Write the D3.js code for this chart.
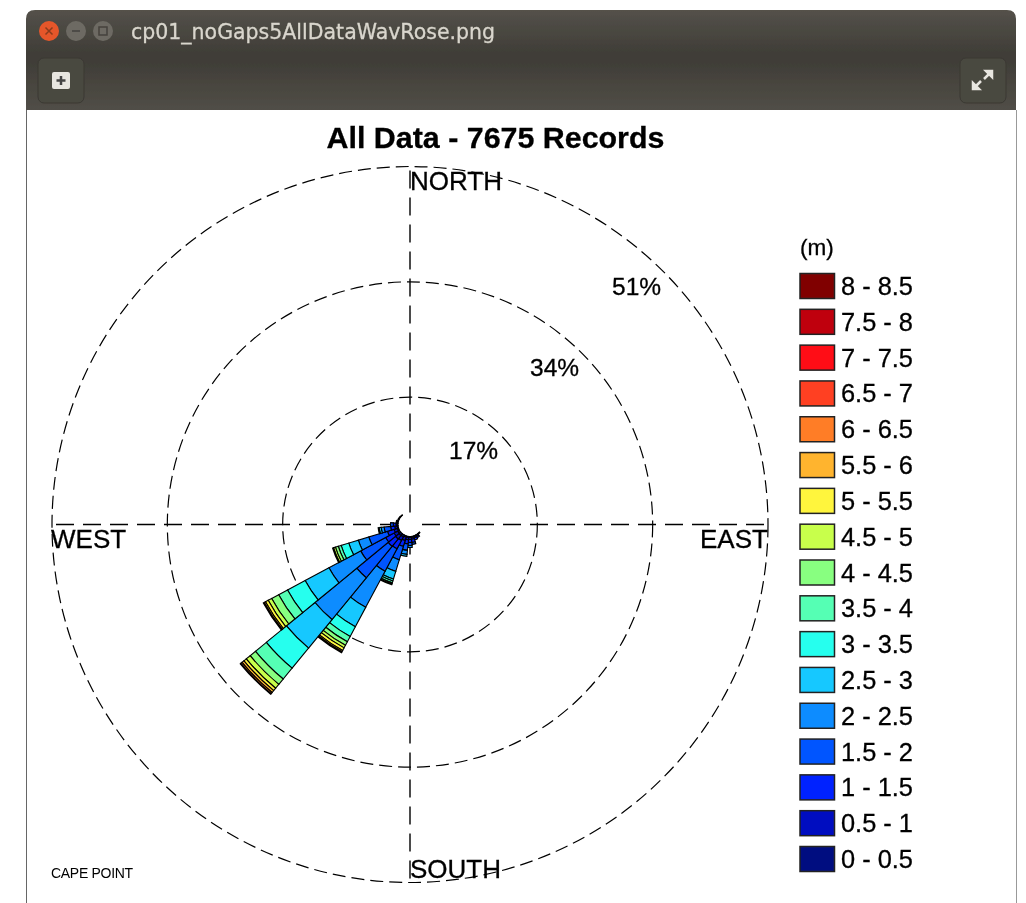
<!DOCTYPE html>
<html>
<head>
<meta charset="utf-8">
<script src="https://cdn.jsdelivr.net/npm/d3@7"></script>
<style>
  html, body { margin: 0; padding: 0; background: #fff; }
  svg { display: block; }
  text { font-family: "Liberation Sans", Arial, sans-serif; fill: #000; stroke: #000; stroke-width: 0.3px; }
</style>
</head>
<body>
<div class="chart"></div>
<script>
const chartTitle = 'All Data - 7675 Records';
const windowTitle = 'cp01_noGaps5AllDataWavRose.png';
const stationName = 'CAPE POINT';
const unitLabel = '(m)';

const heightBands = ['0 - 0.5', '0.5 - 1', '1 - 1.5', '1.5 - 2', '2 - 2.5', '2.5 - 3', '3 - 3.5', '3.5 - 4',
  '4 - 4.5', '4.5 - 5', '5 - 5.5', '5.5 - 6', '6 - 6.5', '6.5 - 7', '7 - 7.5', '7.5 - 8', '8 - 8.5'];
const bandColors = ['#001080', '#0010c0', '#0022ff', '#0055ff', '#0a8cff', '#14c8ff', '#28ffee', '#55ffb4',
  '#88ff80', '#c8ff4b', '#fff53c', '#ffb42d', '#ff7d28', '#ff4020', '#ff0a14', '#bf0010', '#800000'];

const percentTicks = [17, 34, 51];
const compass = ['NORTH', 'EAST', 'SOUTH', 'WEST'];

// bearing of each 11.25 deg sector
const bearings = [135, 146.25, 157.5, 168.75, 180, 191.25, 202.5, 213.75, 225, 236.25, 247.5, 258.75, 270, 281.25, 292.5, 303.75, 315];
// cumulative % at the top of each height band, one row per bearing
const cumulative = [
  [0.05, 0.1],
  [0.1, 0.25, 0.45],
  [0.1, 0.3, 0.6],
  [0.15, 0.44, 0.88, 1.18],
  [0.15, 0.44, 0.88, 1.33, 1.62],
  [0.15, 0.5, 1.1, 2.06, 2.65, 2.95],
  [0.2, 0.7, 1.6, 3.68, 5.45, 6.63, 6.92, 7.22, 7.36, 7.51],
  [0.3, 0.9, 2.3, 6.04, 12.08, 15.32, 16.94, 17.82, 18.41, 18.85, 19.29, 19.5, 19.65],
  [0.35, 1.0, 2.4, 8.39, 16.35, 21.8, 25.63, 27.69, 28.72, 29.46, 29.9, 30.27, 30.49, 30.6],
  [0.3, 0.9, 2.3, 6.48, 11.78, 15.76, 18.7, 20.18, 21.35, 21.94, 22.39, 22.6, 22.75],
  [0.2, 0.7, 1.7, 4.57, 6.19, 7.66, 8.84, 9.28, 9.72, 10.01, 10.16],
  [0.15, 0.5, 1.1, 2.06, 2.5, 2.8, 2.95],
  [0.1, 0.3, 0.7, 1.1],
  [0.1, 0.2, 0.3],
  [0.05, 0.15],
  [0.05, 0.1],
  [0.03, 0.06]
];

const width = 1026, height = 903;
const cx = 410, cy = 524.5;

const svg = d3.select('.chart').append('svg').attr('width', width).attr('height', height);
const defs = svg.append('defs');
// the reference is a slightly soft screenshot
defs.append('filter').attr('id', 'soft').attr('x', 0).attr('y', 0).attr('width', 1).attr('height', 1)
  .append('feGaussianBlur').attr('stdDeviation', 0.45);
const root = svg.append('g').attr('filter', 'url(#soft)');
root.append('rect').attr('width', width).attr('height', height).attr('fill', '#fff');

// window frame
const grad = defs.append('linearGradient').attr('id', 'bar').attr('x1', 0).attr('y1', 0).attr('x2', 0).attr('y2', 1);
[[0, '#54514a'], [0.42, '#403e38'], [0.5, '#3f3d37'], [1, '#514e47']].forEach(s => {
  grad.append('stop').attr('offset', s[0]).attr('stop-color', s[1]);
});
root.append('path').attr('d', 'M26,110V19Q26,10 35,10H1007Q1016,10 1016,19V110Z').attr('fill', 'url(#bar)');
root.append('line').attr('x1', 26.5).attr('x2', 26.5).attr('y1', 110).attr('y2', height).attr('stroke', '#666');
root.append('line').attr('x1', 1016.5).attr('x2', 1016.5).attr('y1', 110).attr('y2', height).attr('stroke', '#999');

root.append('circle').attr('cx', 49).attr('cy', 31).attr('r', 10).attr('fill', '#e6572b');
root.append('circle').attr('cx', 76).attr('cy', 31).attr('r', 10).attr('fill', '#6d6a63');
root.append('circle').attr('cx', 103).attr('cy', 31).attr('r', 10).attr('fill', '#6d6a63');
root.append('path').attr('d', 'M45.5,27.5L52.5,34.5M52.5,27.5L45.5,34.5').attr('stroke', '#8a3a1e').attr('stroke-width', 1.5);
root.append('path').attr('d', 'M72,31H80').attr('stroke', '#45433d').attr('stroke-width', 1.5);
root.append('rect').attr('x', 99).attr('y', 27).attr('width', 8).attr('height', 8).attr('fill', 'none').attr('stroke', '#45433d').attr('stroke-width', 1.5);
root.append('text').attr('x', 131).attr('y', 39).text(windowTitle)
  .style('font-family', '"DejaVu Sans"').style('font-size', '20.5px').style('fill', '#d9d6cd').style('stroke', '#d9d6cd');

[[38, 58], [960, 58]].forEach(p => {
  root.append('rect').attr('x', p[0]).attr('y', p[1]).attr('width', 46).attr('height', 45).attr('rx', 6)
    .attr('fill', '#4a4841').attr('stroke', '#3a3833');
});
root.append('rect').attr('x', 52).attr('y', 72).attr('width', 18).attr('height', 17).attr('rx', 2).attr('fill', '#e8e6e0');
root.append('path').attr('d', 'M61,76V85M56.5,80.5H65.5').attr('stroke', '#444').attr('stroke-width', 2.5);
root.append('path').attr('d', 'M986,71H992V77ZM973,83V89H979ZM990,73L984,79M975,87L981,81').attr('fill', '#e8e6e0').attr('stroke', '#e8e6e0').attr('stroke-width', 2.5);

// scales
const radius = d3.scaleLinear().domain([0, 51]).range([12, 358]);
const color = d3.scaleOrdinal(heightBands, bandColors);
const legendY = d3.scalePoint(heightBands.slice().reverse(), [286, 859]);
const halfWidth = 11.25 / 2 * Math.PI / 180;
const rad = d => d * Math.PI / 180;
const arc = d3.arc();

// grid
const plot = root.append('g').attr('transform', `translate(${cx},${cy})`);
plot.selectAll('circle.ring').data(percentTicks).join('circle')
  .attr('class', 'ring').attr('r', d => radius(d))
  .attr('fill', 'none').attr('stroke', '#000').attr('stroke-width', 1.2).attr('stroke-dasharray', '13 6');
[0, 90, 180, 270].forEach(b => {
  plot.append('line')
    .attr('x1', radius(0) * Math.sin(rad(b))).attr('y1', -radius(0) * Math.cos(rad(b)))
    .attr('x2', radius(51) * Math.sin(rad(b))).attr('y2', -radius(51) * Math.cos(rad(b)))
    .attr('stroke', '#000').attr('stroke-width', 1.4).attr('stroke-dasharray', '18 9');
});

// wedges, one per bearing and height band
bearings.forEach((b, i) => {
  const row = cumulative[i];
  plot.append('g').selectAll('path').data(row).join('path')
    .attr('d', (d, j) => arc({
      innerRadius: radius(j ? row[j - 1] : 0),
      outerRadius: radius(d),
      startAngle: rad(b) - halfWidth,
      endAngle: rad(b) + halfWidth
    }))
    .attr('fill', (d, j) => color(heightBands[j]))
    .attr('stroke', '#000').attr('stroke-width', 1.1);
});

// labels
root.append('text').attr('x', 495.5).attr('y', 148).attr('text-anchor', 'middle')
  .style('font-size', '30.4px').style('font-weight', 'bold').text(chartTitle);

const compassPos = { NORTH: [410, 190], EAST: [700, 548], SOUTH: [410, 878], WEST: [51, 548] };
root.selectAll('text.compass').data(compass).join('text')
  .attr('class', 'compass')
  .attr('x', d => compassPos[d][0]).attr('y', d => compassPos[d][1])
  .style('font-size', '26px').text(d => d);

const pctPos = [[449, 459], [530, 376], [612, 295]];
root.selectAll('text.pct').data(percentTicks).join('text')
  .attr('class', 'pct')
  .attr('x', (d, i) => pctPos[i][0]).attr('y', (d, i) => pctPos[i][1])
  .style('font-size', '24.5px').text(d => d + '%');

root.append('text').attr('x', 51).attr('y', 878).style('font-size', '14px').style('letter-spacing', '-0.3px')
  .style('stroke-width', 0).text(stationName);

// legend
root.append('text').attr('x', 800).attr('y', 255).style('font-size', '22.5px').text(unitLabel);
const legend = root.append('g').selectAll('g').data(heightBands).join('g')
  .attr('transform', d => `translate(800,${legendY(d)})`);
legend.append('rect').attr('x', 0).attr('y', -12.5).attr('width', 34.5).attr('height', 25)
  .attr('fill', d => color(d)).attr('stroke', '#222').attr('stroke-width', 1.5);
legend.append('text').attr('x', 41).attr('y', 9).style('font-size', '25.4px').text(d => d);
</script>
</body>
</html>
